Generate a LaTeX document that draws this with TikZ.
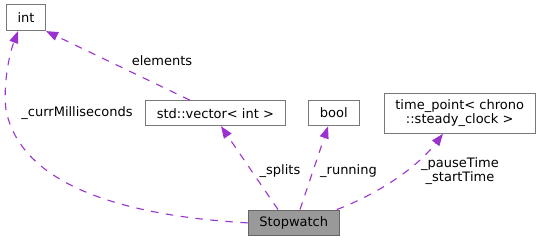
\documentclass[tikz,border=0pt]{standalone}
\usepackage{fontspec}
\setmainfont{DejaVu Sans}
\usetikzlibrary{arrows.meta,calc}
\definecolor{edgepurple}{HTML}{9A32CD}
\definecolor{boxline}{HTML}{787878}
\definecolor{mainfill}{HTML}{999999}
\definecolor{mainline}{HTML}{666666}
\tikzset{
  classbox/.style={draw=boxline, fill=white, line width=1pt, inner sep=0pt,
    font=\fontsize{13}{14.5}\selectfont, align=center},
  mainbox/.style={classbox, draw=mainline, fill=mainfill},
  member/.style={draw=edgepurple, line width=1.1pt, dash pattern=on 7.5pt off 7.5pt,
    -{Triangle[length=12pt,width=9pt,fill=edgepurple]}},
  lbl/.style={inner sep=0pt, font=\fontsize{13}{14.5}\selectfont, align=center}
}
\begin{document}
\begin{tikzpicture}[x=1pt,y=-1pt]
  \useasboundingbox (0,0) rectangle (540,241);

  % classes
  \node[classbox, minimum width=39pt, minimum height=26pt] (int) at (26,17.6) {int};
  \node[classbox, minimum width=139.3pt, minimum height=25pt] (vec) at (215.4,113.2) {std::vector< int >};
  \node[classbox, minimum width=51pt, minimum height=25.7pt] (bool) at (333.8,113) {bool};
  \node[classbox, minimum width=150.7pt, minimum height=40pt] (tp) at (459.7,113.3)
    {time\_point< chrono\\::steady\_clock >};
  \node[mainbox, minimum width=91pt, minimum height=25.7pt] (sw) at (293.8,222.9) {Stopwatch};

  % member relations
  \draw[member] ($(vec.north)+(-25.4,0)$) -- (int.south east);
  \draw[member] (sw.west) .. controls (110,215) and (20,180) .. (6,110)
    .. controls (3,85) and (9,55) .. ($(int.south)+(-8,0)$);
  \draw[member] ($(sw.north)+(-15.8,0)$) -- ($(vec.south)+(5.6,0)$);
  \draw[member] ($(sw.north)+(6.2,0)$) -- ($(bool.south)+(-5.8,0)$);
  \draw[member] ($(sw.north east)+(-3,0)$) .. controls (375,195) and (415,170) .. ($(tp.south)+(-16.7,0)$);

  % relation labels
  \node[lbl] (lelem) at (162,61) {elements};
  \node[lbl] (lcurr) at (77,113) {\_currMilliseconds};
  \node[lbl] (lsplit) at (280,171.5) {\_splits};
  \node[lbl] (lrun) at (348.5,171) {\_running};
  \node[lbl] (ltime) at (460,171) {\_pauseTime\\\_startTime};
\end{tikzpicture}
\end{document}
